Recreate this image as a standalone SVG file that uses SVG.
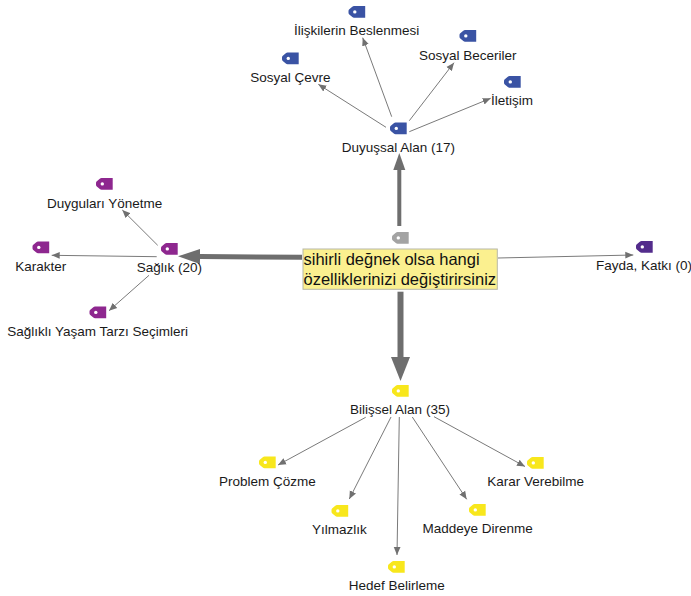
<svg xmlns="http://www.w3.org/2000/svg" width="691" height="596" viewBox="0 0 691 596">
<style>
text{font-family:"Liberation Sans",Arial,sans-serif;font-size:13.5px;fill:#1a1a1a;text-anchor:middle}
text.c{font-size:16.5px;text-anchor:start;fill:#111}
.l{stroke:#7a7a7a;stroke-width:1;fill:none;marker-end:url(#a)}
.t{stroke:#6e6e6e;fill:none}
.blue{fill:#3a53a4}.pur{fill:#8e278f}.yel{fill:#f8e71c}.gry{fill:#a3a3a3}.dp{fill:#532c8c}
</style>
<defs>
<marker id="a" markerUnits="userSpaceOnUse" markerWidth="9" markerHeight="8" refX="8" refY="4" orient="auto"><path d="M0,0.6L8,4L0,7.4Z" fill="#707070"/></marker>
<marker id="b" markerUnits="userSpaceOnUse" markerWidth="23" markerHeight="16" refX="0" refY="8" orient="auto"><path d="M0,0.5L22,8L0,15.5Z" fill="#6e6e6e"/></marker>
<marker id="u" markerUnits="userSpaceOnUse" markerWidth="18" markerHeight="14" refX="0" refY="7" orient="auto"><path d="M0,1L17,7L0,13Z" fill="#6e6e6e"/></marker>
<marker id="d" markerUnits="userSpaceOnUse" markerWidth="25" markerHeight="20" refX="0" refY="10" orient="auto"><path d="M0,0.5L24,10L0,19.5Z" fill="#6e6e6e"/></marker>
<g id="tag"><path d="M5.500,0H16.700V11.700H5.500Q4.600,11.700 3.800,11L0.800,8.500Q0,7.800 0,6.800V4.900Q0,3.900 0.800,3.200L3.800,0.700Q4.600,0 5.500,0Z"/><circle cx="6.300" cy="5.900" r="1.700" fill="#fff"/></g>
</defs>
<g id="connectors">
<line class="l" x1="386" y1="127.300" x2="318.300" y2="84.300"/>
<line class="l" x1="391.700" y1="116.700" x2="362.700" y2="37.700"/>
<line class="l" x1="409.300" y1="120.700" x2="454" y2="62.700"/>
<line class="l" x1="409.300" y1="131.700" x2="490.700" y2="98.300"/>
<line class="l" x1="157.700" y1="245.300" x2="122.300" y2="210"/>
<line class="l" x1="156.700" y1="256.700" x2="51.700" y2="255.300"/>
<line class="l" x1="149" y1="275.300" x2="109" y2="310.700"/>
<line class="l" x1="365.700" y1="417.300" x2="278" y2="465"/>
<line class="l" x1="391" y1="417" x2="349.300" y2="499"/>
<line class="l" x1="399.300" y1="417" x2="397" y2="555"/>
<line class="l" x1="412.300" y1="417" x2="466.700" y2="499.300"/>
<line class="l" x1="434" y1="416.700" x2="525" y2="466.500"/>
<line class="l" x1="498" y1="258" x2="633.300" y2="255"/>
<line class="t" x1="399.300" y1="226" x2="399.300" y2="170" stroke-width="4" marker-end="url(#u)"/>
<line class="t" x1="302" y1="257.300" x2="200" y2="256.500" stroke-width="5" marker-end="url(#b)"/>
<line class="t" x1="400.500" y1="291.700" x2="400.500" y2="357" stroke-width="6" marker-end="url(#d)"/>
</g>
<g id="n-center"><use href="#tag" x="392" y="232" class="gry"/><rect x="303" y="249" width="194.300" height="40.300" fill="#fbf08f" stroke="#b8b8a8" stroke-width="1"/><text class="c" x="303.500" y="264.500">sihirli değnek olsa hangi</text><text class="c" x="303.500" y="285">özelliklerinizi değiştirirsiniz</text></g>
<g id="n-duyussal"><use href="#tag" x="390" y="122.500" class="blue"/><text x="398.300" y="151.700">Duyuşsal Alan (17)</text></g>
<g id="n-iliskiler"><use href="#tag" x="348.500" y="6" class="blue"/><text x="356.700" y="35">İlişkilerin Beslenmesi</text></g>
<g id="n-beceriler"><use href="#tag" x="459.500" y="30" class="blue"/><text x="467.700" y="59.500">Sosyal Beceriler</text></g>
<g id="n-cevre"><use href="#tag" x="282" y="52.500" class="blue"/><text x="290.500" y="82">Sosyal Çevre</text></g>
<g id="n-iletisim"><use href="#tag" x="504" y="76" class="blue"/><text x="512" y="105">İletişim</text></g>
<g id="n-saglik"><use href="#tag" x="161" y="243" class="pur"/><text x="169.300" y="272">Sağlık (20)</text></g>
<g id="n-duygular"><use href="#tag" x="96" y="178" class="pur"/><text x="104.700" y="207.500">Duyguları Yönetme</text></g>
<g id="n-karakter"><use href="#tag" x="32.500" y="241.500" class="pur"/><text x="40.700" y="271">Karakter</text></g>
<g id="n-yasam"><use href="#tag" x="89.500" y="306.500" class="pur"/><text x="97.700" y="336">Sağlıklı Yaşam Tarzı Seçimleri</text></g>
<g id="n-fayda"><use href="#tag" x="636" y="241" class="dp"/><text x="644" y="270">Fayda, Katkı (0)</text></g>
<g id="n-bilissel"><use href="#tag" x="392" y="385" class="yel"/><text x="400" y="414">Bilişsel Alan (35)</text></g>
<g id="n-problem"><use href="#tag" x="259" y="456.500" class="yel"/><text x="267.300" y="485.500">Problem Çözme</text></g>
<g id="n-karar"><use href="#tag" x="527" y="457" class="yel"/><text x="535.700" y="486">Karar Verebilme</text></g>
<g id="n-yilmaz"><use href="#tag" x="331.500" y="505" class="yel"/><text x="339.300" y="534">Yılmazlık</text></g>
<g id="n-madde"><use href="#tag" x="469" y="504" class="yel"/><text x="477.700" y="533">Maddeye Direnme</text></g>
<g id="n-hedef"><use href="#tag" x="388" y="561" class="yel"/><text x="396.700" y="590">Hedef Belirleme</text></g>
</svg>
